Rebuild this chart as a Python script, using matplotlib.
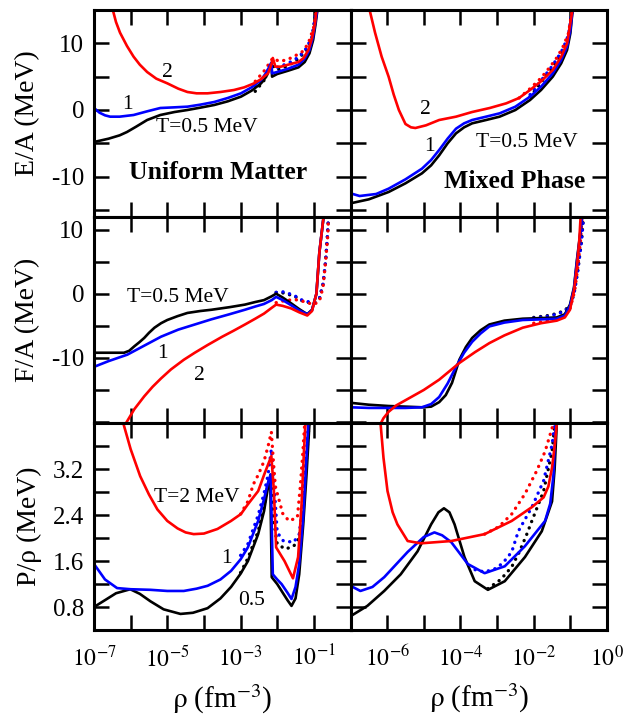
import numpy as np
import matplotlib
matplotlib.use("Agg")
from matplotlib import pyplot as plt

plt.rcParams["font.family"] = ["Liberation Serif", "DejaVu Serif"]
plt.rcParams["mathtext.fontset"] = "stix"

# ---- E/A, uniform matter (log10 rho, MeV)
ea_u_x05 = [-7, -6.6, -6.3, -6.1, -5.85, -5.55, -5.19, -4.8, -4.45, -4.1, -3.72, -3.35, -2.99, -2.7, -2.44, -2.3, -2.16, -2.14, -2.0, -1.7, -1.42, -1.25, -1.12, -1.02, -0.95, -0.88]
ea_u_05 = [-4.8, -4.3, -3.8, -3.3, -2.5, -1.5, -0.75, -0.3, 0.0, 0.35, 0.75, 1.3, 2.0, 2.9, 4.0, 5.0, 7.0, 5.0, 5.4, 5.9, 6.4, 7.2, 8.5, 10.5, 13, 16]
ea_u_x1 = [-7, -6.85, -6.7, -6.56, -6.3, -5.92, -5.55, -5.19, -4.8, -4.45, -4.1, -3.72, -3.35, -2.99, -2.7, -2.44, -2.3, -2.16, -2.14, -2.0, -1.7, -1.42, -1.25, -1.12, -1.02, -0.95, -0.88]
ea_u_1 = [0.3, -0.4, -0.8, -1.0, -1.0, -0.75, -0.2, 0.3, 0.4, 0.5, 0.8, 1.2, 1.8, 2.5, 3.4, 4.5, 5.6, 7.1, 5.5, 5.7, 6.2, 6.8, 7.7, 9.0, 11, 13.5, 16]
ea_u_x2 = [-6.51, -6.4, -6.29, -6.1, -5.92, -5.75, -5.55, -5.3, -5.0, -4.7, -4.45, -4.2, -3.9, -3.55, -3.18, -2.9, -2.63, -2.45, -2.25, -2.15, -2.12, -2.05, -1.9, -1.7, -1.42, -1.28, -1.15, -1.05, -0.97, -0.92]
ea_u_2 = [15.5, 13.2, 11.6, 9.6, 8.0, 6.8, 5.7, 4.7, 4.0, 3.2, 2.7, 2.5, 2.5, 2.7, 3.0, 3.4, 4.0, 4.6, 5.5, 7.0, 7.8, 6.5, 6.5, 6.8, 7.2, 7.8, 9.0, 10.8, 13, 15.5]
ea_u_dx05 = [-2.6, -2.35, -2.16, -2.0, -1.8, -1.6, -1.4, -1.2, -1.05, -0.92]
ea_u_d05 = [2.8, 4.5, 6.8, 6.0, 6.4, 7.0, 7.8, 9.0, 10.8, 15.5]
ea_u_dx1 = [-2.6, -2.35, -2.16, -2.0, -1.8, -1.6, -1.4, -1.2, -1.05, -0.92]
ea_u_d1 = [3.5, 5.0, 6.8, 6.4, 6.8, 7.3, 8.0, 9.3, 11, 15.5]
ea_u_dx2 = [-2.6, -2.35, -2.12, -1.95, -1.75, -1.55, -1.3, -1.15, -1.0, -0.9]
ea_u_d2 = [4.3, 5.9, 7.8, 7.3, 7.5, 8.0, 8.8, 10, 12.5, 16]

# ---- E/A, mixed phase
ea_m_x05 = [-7, -6.5, -5.96, -5.5, -5.05, -4.8, -4.58, -4.35, -4.12, -3.9, -3.68, -3.3, -2.93, -2.5, -2.1, -1.8, -1.48, -1.25, -1.09, -1.0, -0.93]
ea_m_05 = [-14.0, -13.4, -12.3, -11.0, -9.5, -8.3, -6.8, -5.0, -3.5, -2.6, -2.0, -1.5, -1.0, 0.0, 1.5, 3.0, 5.0, 7.0, 9.0, 11.5, 15.5]
ea_m_x1 = [-7, -6.75, -6.3, -5.96, -5.5, -5.05, -4.8, -4.58, -4.35, -4.12, -3.9, -3.68, -3.3, -2.93, -2.5, -2.1, -1.8, -1.48, -1.25, -1.09, -1.0, -0.93]
ea_m_1 = [-12.5, -12.9, -12.6, -11.8, -10.4, -8.8, -7.5, -6.0, -4.3, -2.8, -2.0, -1.5, -1.0, -0.5, 0.5, 2.0, 3.5, 5.5, 7.5, 9.5, 12, 15.5]
ea_m_x2 = [-6.5, -6.33, -6.15, -5.96, -5.82, -5.68, -5.5, -5.35, -5.23, -4.94, -4.58, -4.12, -3.68, -3.2, -2.75, -2.4, -2.1, -1.8, -1.48, -1.25, -1.09, -0.93]
ea_m_2 = [15.5, 11.6, 8.0, 5.0, 2.3, 0.0, -2.1, -2.6, -2.7, -2.3, -1.5, -1.0, -0.3, 0.3, 1.0, 1.8, 3.0, 4.3, 6.0, 8.0, 10.0, 15.5]
ea_m_dx05 = [-2.1, -1.8, -1.55, -1.35, -1.2, -1.05, -0.95]
ea_m_d05 = [2.0, 4.1, 6.0, 7.6, 9.0, 11.1, 15]
ea_m_dx1 = [-2.1, -1.8, -1.55, -1.35, -1.2, -1.05, -0.95]
ea_m_d1 = [2.3, 4.4, 6.2, 7.8, 9.2, 11.3, 15]
ea_m_dx2 = [-2.4, -2.1, -1.8, -1.55, -1.35, -1.2, -1.05, -0.95]
ea_m_d2 = [1.8, 3.2, 4.8, 6.5, 8.0, 9.5, 11.5, 15]

# ---- F/A, uniform matter
fa_u_x05 = [-7, -6.6, -6.18, -6.04, -5.9, -5.77, -5.63, -5.5, -5.35, -5.17, -5.0, -4.72, -4.45, -4.1, -3.79, -3.3, -2.88, -2.6, -2.36, -2.15, -2.03, -1.85, -1.62, -1.4, -1.18, -1.05, -0.93, -0.85, -0.73]
fa_u_05 = [-9.2, -9.2, -9.2, -8.9, -8.2, -7.6, -6.9, -6.1, -5.3, -4.6, -4.1, -3.5, -3.0, -2.7, -2.5, -2.1, -1.7, -1.3, -1.0, -0.4, 0.0, -0.6, -1.5, -2.4, -3.2, -2.5, 0.0, 6.4, 12.2]
fa_u_x1 = [-7, -6.6, -6.09, -5.63, -5.17, -4.7, -4.25, -3.8, -3.3, -2.88, -2.6, -2.36, -2.15, -2.03, -1.85, -1.62, -1.4, -1.18, -1.05, -0.93, -0.85, -0.73]
fa_u_1 = [-11.4, -10.5, -9.5, -8.1, -6.7, -5.6, -4.8, -4.0, -3.2, -2.5, -2.0, -1.6, -1.0, -0.5, -1.0, -1.8, -2.6, -3.2, -2.6, 0.0, 6.4, 12.2]
fa_u_x2 = [-6.13, -5.9, -5.63, -5.4, -5.17, -4.9, -4.55, -4.25, -3.9, -3.5, -3.2, -2.88, -2.6, -2.36, -2.15, -2.03, -1.85, -1.62, -1.4, -1.18, -1.05, -0.93, -0.85, -0.73]
fa_u_2 = [-20.2, -18.0, -16.0, -14.5, -13.2, -11.8, -10.3, -9.2, -8.0, -6.7, -5.8, -4.8, -3.9, -3.1, -2.2, -1.7, -1.9, -2.3, -2.9, -3.4, -2.7, 0.0, 6.4, 12.2]
fa_u_dx05 = [-2.03, -1.81, -1.53, -1.29, -1.01, -0.85, -0.75, -0.68, -0.63, -0.6]
fa_u_d05 = [0.2, 0.1, -0.4, -1.2, -1.5, -0.8, 1.5, 5.0, 9.0, 12]
fa_u_dx1 = [-2.03, -1.81, -1.53, -1.29, -1.01, -0.85, -0.75, -0.68, -0.63, -0.6]
fa_u_d1 = [0.2, 0.3, -0.3, -1.1, -1.4, -0.8, 1.5, 5.0, 9.0, 12]
fa_u_dx2 = [-2.03, -1.81, -1.53, -1.29, -1.01, -0.85, -0.75, -0.68, -0.62, -0.6]
fa_u_d2 = [-1.4, -1.1, -0.9, -1.2, -1.7, -1.2, 1.0, 5.0, 9.0, 12]

# ---- F/A, mixed phase
fa_m_x05 = [-7, -6.5, -5.96, -5.5, -5.05, -4.8, -4.58, -4.4, -4.23, -4.03, -3.85, -3.68, -3.45, -3.21, -2.8, -2.3, -1.8, -1.37, -1.15, -1.01, -0.9, -0.82, -0.75, -0.68]
fa_m_05 = [-17.0, -17.3, -17.5, -17.6, -17.7, -17.6, -16.9, -15.8, -13.9, -10.3, -8.3, -6.9, -5.7, -4.8, -4.2, -3.9, -3.8, -3.7, -3.2, -1.7, 1.0, 5.3, 8.5, 12.0]
fa_m_x1 = [-7, -6.5, -5.96, -5.5, -5.05, -4.8, -4.58, -4.35, -4.12, -3.9, -3.68, -3.45, -3.21, -2.8, -2.3, -1.8, -1.37, -1.15, -1.01, -0.9, -0.82, -0.75, -0.68]
fa_m_1 = [-17.7, -17.8, -17.8, -17.8, -17.7, -17.2, -16.1, -14.0, -11.4, -9.2, -7.5, -6.2, -5.1, -4.5, -4.1, -4.0, -3.9, -3.4, -1.9, 0.8, 5.0, 8.3, 12.0]
fa_m_x2 = [-6.2, -6.1, -5.96, -5.75, -5.5, -5.0, -4.58, -4.03, -3.6, -3.21, -2.8, -2.3, -1.8, -1.37, -1.15, -1.01, -0.9, -0.82, -0.76, -0.72]
fa_m_2 = [-20.5, -19.4, -18.4, -17.4, -16.6, -15.0, -13.4, -10.8, -9.1, -7.7, -6.5, -5.3, -4.6, -4.2, -3.7, -2.5, 0.5, 4.2, 8.0, 12.0]
fa_m_dx05 = [-2.0, -1.6, -1.37, -1.15, -1.0, -0.9, -0.8, -0.7, -0.64]
fa_m_d05 = [-3.7, -3.4, -3.1, -2.6, -1.7, 0.0, 3.5, 8.0, 12]
fa_m_dx1 = [-2.0, -1.6, -1.37, -1.15, -1.0, -0.9, -0.8, -0.7, -0.64]
fa_m_d1 = [-3.8, -3.5, -3.2, -2.7, -1.8, 0.0, 3.5, 8.0, 12]
fa_m_dx2 = [-2.0, -1.6, -1.37, -1.15, -1.0, -0.88, -0.8, -0.72, -0.68]
fa_m_d2 = [-4.6, -4.2, -3.9, -3.3, -2.2, 0.5, 4.0, 8.5, 12]

# ---- P/rho, uniform matter
pr_u_x05 = [-7, -6.7, -6.4, -6.01, -5.75, -5.46, -5.1, -4.64, -4.3, -3.9, -3.55, -3.26, -3.0, -2.8, -2.52, -2.36, -2.25, -2.19, -2.15, -2.0, -1.88, -1.72, -1.61, -1.5, -1.4, -1.29, -1.2, -1.12]
pr_u_05 = [0.8, 0.92, 1.04, 1.11, 1.03, 0.9, 0.76, 0.68, 0.7, 0.78, 0.95, 1.15, 1.38, 1.6, 2.07, 2.47, 2.89, 3.03, 1.32, 1.2, 1.08, 0.92, 0.82, 0.95, 1.37, 2.24, 3.11, 4.0]
pr_u_x1 = [-7, -6.7, -6.37, -6.0, -5.46, -5.0, -4.55, -4.2, -3.9, -3.55, -3.26, -3.0, -2.8, -2.52, -2.36, -2.25, -2.18, -2.12, -2.0, -1.88, -1.72, -1.61, -1.5, -1.4, -1.29, -1.2, -1.15]
pr_u_1 = [1.55, 1.28, 1.13, 1.11, 1.1, 1.08, 1.08, 1.12, 1.17, 1.28, 1.43, 1.63, 1.84, 2.3, 2.68, 2.97, 3.11, 1.37, 1.28, 1.2, 1.05, 0.94, 1.15, 1.55, 2.37, 3.41, 4.0]
pr_u_x2 = [-6.2, -6.0, -5.74, -5.5, -5.27, -5.0, -4.72, -4.5, -4.28, -4.0, -3.63, -3.26, -2.99, -2.8, -2.52, -2.36, -2.16, -2.09, -2.03, -1.8, -1.57, -1.43, -1.34, -1.27, -1.23]
pr_u_2 = [4.0, 3.55, 3.08, 2.76, 2.5, 2.3, 2.17, 2.1, 2.07, 2.08, 2.16, 2.3, 2.42, 2.59, 2.82, 3.1, 3.43, 2.82, 1.84, 1.6, 1.3, 1.67, 2.54, 3.51, 4.0]
pr_u_dx05 = [-3.0, -2.8, -2.52, -2.36, -2.25, -2.18, -2.12, -2.0, -1.78, -1.55, -1.4, -1.3, -1.2, -1.13]
pr_u_d05 = [1.4, 1.65, 2.12, 2.55, 2.95, 3.1, 2.4, 1.9, 1.81, 1.86, 2.0, 2.5, 3.4, 4.0]
pr_u_dx1 = [-3.0, -2.8, -2.52, -2.36, -2.25, -2.16, -2.1, -2.0, -1.83, -1.55, -1.4, -1.3, -1.2, -1.15]
pr_u_d1 = [1.7, 1.9, 2.4, 2.78, 3.1, 3.55, 3.1, 2.1, 1.95, 1.93, 2.07, 2.6, 3.5, 4.0]
pr_u_dx2 = [-3.0, -2.8, -2.65, -2.52, -2.36, -2.25, -2.16, -2.1, -2.05, -1.85, -1.68, -1.45, -1.37, -1.3, -1.25]
pr_u_d2 = [2.42, 2.64, 2.94, 3.1, 3.34, 3.6, 3.85, 3.3, 2.9, 2.43, 2.3, 2.36, 2.9, 3.5, 4.0]

# ---- P/rho, mixed phase
pr_m_x05 = [-7, -6.54, -6.08, -5.63, -5.17, -4.8, -4.6, -4.45, -4.3, -4.16, -3.89, -3.61, -3.25, -2.79, -2.24, -1.78, -1.5, -1.43, -1.37]
pr_m_05 = [0.64, 0.82, 1.08, 1.37, 1.77, 2.24, 2.45, 2.52, 2.45, 2.24, 1.67, 1.25, 1.1, 1.25, 1.67, 2.12, 2.64, 3.2, 4.0]
pr_m_x1 = [-7, -6.73, -6.4, -6.08, -5.44, -5.0, -4.71, -4.5, -4.25, -3.8, -3.34, -2.79, -2.24, -1.69, -1.55, -1.46, -1.4]
pr_m_1 = [1.17, 1.08, 1.15, 1.32, 1.76, 2.02, 2.1, 2.05, 1.93, 1.55, 1.39, 1.51, 1.86, 2.3, 2.6, 3.1, 4.0]
pr_m_x2 = [-6.18, -6.1, -5.99, -5.85, -5.72, -5.44, -5.08, -4.25, -3.34, -2.6, -2.05, -1.73, -1.6, -1.5, -1.43, -1.37]
pr_m_2 = [4.0, 3.4, 2.82, 2.45, 2.24, 1.95, 1.91, 1.95, 2.07, 2.3, 2.54, 2.71, 2.9, 3.23, 3.6, 4.0]
pr_m_dx05 = [-3.25, -2.9, -2.6, -2.4, -2.2, -2.05, -1.73, -1.5, -1.42]
pr_m_d05 = [1.12, 1.28, 1.5, 1.75, 2.05, 2.3, 2.82, 3.51, 4.0]
pr_m_dx1 = [-3.6, -3.34, -3.0, -2.8, -2.6, -2.42, -2.05, -1.73, -1.5, -1.42]
pr_m_d1 = [1.45, 1.41, 1.48, 1.6, 1.76, 2.12, 2.54, 3.0, 3.63, 4.0]
pr_m_dx2 = [-3.34, -2.95, -2.6, -2.24, -1.92, -1.69, -1.46]
pr_m_d2 = [2.07, 2.2, 2.42, 2.77, 3.17, 3.51, 4.0]

xtick_pos = [1e-7, 1e-6, 1e-5, 1e-4, 1e-3, 1e-2, 1e-1, 1e0]
xlabels_left = [r"$10^{-7}$", "", r"$10^{-5}$", "", r"$10^{-3}$", "", r"$10^{-1}$", ""]
xlabels_right = ["", r"$10^{-6}$", "", r"$10^{-4}$", "", r"$10^{-2}$", "", r"$10^{0}$"]

RED = "#ff0000"
BLUE = "#0000ff"
BLACK = "#000000"

fig, axes = plt.subplots(3, 2, figsize=(6.38, 7.15), dpi=100)
fig.subplots_adjust(left=94 / 638, right=607 / 638, top=1 - 10 / 715, bottom=1 - 630 / 715,
                    wspace=0, hspace=0)


def draw(ax, solid, dotted):
    for (x, y), c in zip(dotted, [BLACK, BLUE, RED]):
        ax.plot(10.0 ** np.array(x), y, color=c, lw=2.4, ls=(0, (0.05, 2.0)),
                dash_capstyle="round")
    for (x, y), c in zip(solid, [BLACK, BLUE, RED]):
        ax.plot(10.0 ** np.array(x), y, color=c, lw=1.9, solid_joinstyle="round")


draw(axes[0, 0], [(ea_u_x05, ea_u_05), (ea_u_x1, ea_u_1), (ea_u_x2, ea_u_2)],
     [(ea_u_dx05, ea_u_d05), (ea_u_dx1, ea_u_d1), (ea_u_dx2, ea_u_d2)])
draw(axes[0, 1], [(ea_m_x05, ea_m_05), (ea_m_x1, ea_m_1), (ea_m_x2, ea_m_2)],
     [(ea_m_dx05, ea_m_d05), (ea_m_dx1, ea_m_d1), (ea_m_dx2, ea_m_d2)])
draw(axes[1, 0], [(fa_u_x05, fa_u_05), (fa_u_x1, fa_u_1), (fa_u_x2, fa_u_2)],
     [(fa_u_dx05, fa_u_d05), (fa_u_dx1, fa_u_d1), (fa_u_dx2, fa_u_d2)])
draw(axes[1, 1], [(fa_m_x05, fa_m_05), (fa_m_x1, fa_m_1), (fa_m_x2, fa_m_2)],
     [(fa_m_dx05, fa_m_d05), (fa_m_dx1, fa_m_d1), (fa_m_dx2, fa_m_d2)])
draw(axes[2, 0], [(pr_u_x05, pr_u_05), (pr_u_x1, pr_u_1), (pr_u_x2, pr_u_2)],
     [(pr_u_dx05, pr_u_d05), (pr_u_dx1, pr_u_d1), (pr_u_dx2, pr_u_d2)])
draw(axes[2, 1], [(pr_m_x05, pr_m_05), (pr_m_x1, pr_m_1), (pr_m_x2, pr_m_2)],
     [(pr_m_dx05, pr_m_d05), (pr_m_dx1, pr_m_d1), (pr_m_dx2, pr_m_d2)])

ylims = [(-16, 15), (-20.2, 12), (0.4, 4.0)]
yticks = [[-15, -10, -5, 0, 5, 10], [-20, -15, -10, -5, 0, 5, 10],
          [0.8, 1.2, 1.6, 2.0, 2.4, 2.8, 3.2, 3.6]]
yticklabels = [["", "-10", "", "0", "", "10"], ["", "", "-10", "", "0", "", "10"],
               ["0.8", "", "1.6", "", "2.4", "", "3.2", ""]]
ylabels = ["E/A (MeV)", "F/A (MeV)", "P/\u03c1 (MeV)"]

for i in range(3):
    for j in range(2):
        ax = axes[i, j]
        ax.set_xscale("log")
        ax.set_xlim(1e-7, 1e0)
        ax.set_ylim(*ylims[i])
        ax.minorticks_off()
        ax.set_xticks(xtick_pos)
        ax.set_yticks(yticks[i])
        if i == 2:
            ax.set_xticklabels(xlabels_left if j == 0 else xlabels_right)
            ax.set_xlabel(r"$\mathrm{\rho}$ (fm$^{-3}$)", fontsize=21, labelpad=8)
        else:
            ax.set_xticklabels([])
        if j == 0:
            ax.set_yticklabels(yticklabels[i])
            ax.set_ylabel(ylabels[i], fontsize=20, labelpad=8)
        else:
            ax.set_yticklabels([])
        ax.tick_params(direction="in", length=11, width=1.8, top=True, right=True)
        ax.tick_params(axis="x", pad=11, labelsize=17)
        ax.tick_params(axis="y", pad=7, labelsize=18)
        for s in ax.spines.values():
            s.set_linewidth(2.2)

tkw = dict(fontsize=15.5, ha="center", va="center")
bkw = dict(fontsize=18.5, fontweight="bold", ha="center", va="center")
a = axes[0, 0]
a.text(0.288, 0.696, "2", transform=a.transAxes, **tkw)
a.text(0.132, 0.541, "1", transform=a.transAxes, **tkw)
a.text(0.44, 0.43, "T=0.5 MeV", transform=a.transAxes, **tkw)
a.text(0.482, 0.213, "Uniform Matter", transform=a.transAxes, **bkw)
a = axes[0, 1]
a.text(0.293, 0.517, "2", transform=a.transAxes, **tkw)
a.text(0.309, 0.338, "1", transform=a.transAxes, **tkw)
a.text(0.688, 0.357, "T=0.5 MeV", transform=a.transAxes, **tkw)
a.text(0.64, 0.169, "Mixed Phase", transform=a.transAxes, **bkw)
a = axes[1, 0]
a.text(0.327, 0.607, "T=0.5 MeV", transform=a.transAxes, **tkw)
a.text(0.268, 0.34, "1", transform=a.transAxes, **tkw)
a.text(0.412, 0.233, "2", transform=a.transAxes, **tkw)
a = axes[2, 0]
a.text(0.40, 0.643, "T=2 MeV", transform=a.transAxes, **tkw)
a.text(0.517, 0.348, "1", transform=a.transAxes, **tkw)
a.text(0.615, 0.145, "0.5", transform=a.transAxes, **tkw)

fig.savefig("out.png", dpi=100)
